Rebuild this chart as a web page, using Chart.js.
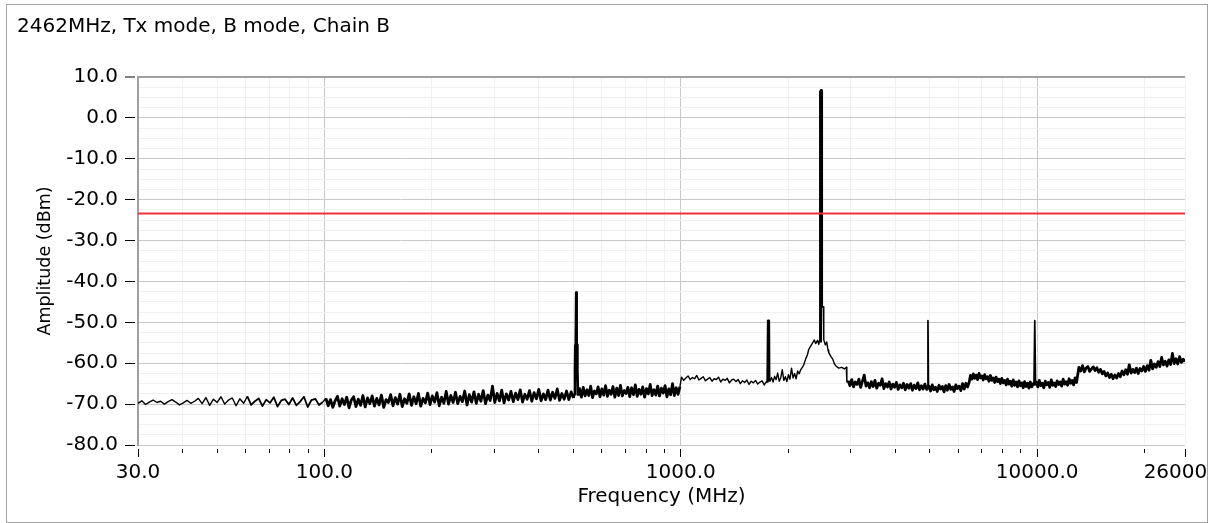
<!DOCTYPE html>
<html>
<head>
<meta charset="utf-8">
<script src="https://cdn.jsdelivr.net/npm/chart.js@4/dist/chart.umd.min.js"></script>
<style>
  html, body { margin: 0; padding: 0; background: #fff; }
  #frame {
    position: absolute; left: 6px; top: 4px;
    width: 1202px; height: 519px;
    box-sizing: border-box; border: 1px solid #a0a0a0;
  }
  #chart { display: block; }
</style>
</head>
<body>
<div id="frame"><canvas id="chart" width="1200" height="517"></canvas></div>
<script>
// ---------------- data ----------------
const chartTitle = "2462MHz, Tx mode, B mode, Chain B";
const limitDbm = -23.4;

// x axis ticks (MHz)
const freqTicks = [30, 40, 50, 60, 70, 80, 90, 100, 200, 300, 400, 500, 600, 700, 800, 900,
  1000, 2000, 3000, 4000, 5000, 6000, 7000, 8000, 9000, 10000, 20000, 26000];
const freqLabels = [30, 100, 1000, 10000, 26000];
const freqMajorGrid = [100, 1000, 10000];

// noise floor sweeps: band edges (MHz) and readings (dBm)
const bandFrom = [30, 101, 520, 1005, 1780, 2950, 4970, 6500, 9950, 13100];
const bandTo   = [99, 500, 995, 1740, 2150, 4900, 6450, 9750, 12900, 26000];

const floor30 = [-69.8,-69.2,-70.1,-69.5,-69.0,-69.6,-69.3,-70.0,-69.4,-68.9,-69.5,-70.2,-69.7,-69.1,-69.8,-69.3,
  -68.6,-69.9,-68.4,-70.3,-68.8,-69.6,-68.2,-70.0,-69.0,-68.5,-70.4,-68.7,-69.8,-68.1,-70.2,-69.3,-68.6,-70.5,
  -68.9,-69.7,-68.3,-70.6,-69.1,-68.8,-70.1,-68.5,-70.3,-69.4,-68.2,-70.7,-69.0,-68.7,-70.2,-69.5];
const floor100 = [-68.6,-70.4,-68.9,-70.8,-69.2,-68.1,-70.5,-68.7,-70.1,-68.3,-70.9,-69.0,-68.2,-70.6,-68.8,-70.3,
  -67.9,-70.7,-68.5,-69.9,-68.0,-70.5,-68.6,-70.2,-67.8,-70.8,-68.9,-69.6,-67.7,-70.4,-68.4,-70.0,-67.6,-70.6,
  -68.7,-69.8,-67.5,-70.3,-68.2,-69.9,-67.4,-70.5,-68.6,-69.7,-67.3,-70.1,-68.0,-69.5,-67.2,-70.4,-68.3,-69.8,
  -66.9,-70.0,-67.9,-69.6,-67.1,-69.9,-68.1,-69.4,-66.8,-70.2,-67.7,-69.5,-67.0,-69.8,-67.6,-69.3,-66.7,-69.9,
  -67.8,-69.1,-65.6,-69.6,-67.4,-69.2,-66.6,-69.7,-67.5,-69.0,-66.9,-69.4,-67.3,-68.9,-66.5,-69.5,-67.6,-68.8,
  -66.7,-69.3,-67.2,-68.7,-66.4,-69.2,-67.5,-68.9,-66.6,-69.0,-67.1,-68.6,-66.3,-69.1,-67.4,-68.8,-66.8,-68.9,
  -67.0,-68.5];
const floor520 = [-66.2,-68.3,-65.9,-68.0,-66.5,-67.9,-65.6,-68.4,-66.8,-67.5,-65.8,-68.2,-66.3,-67.8,-65.5,-68.1,
  -66.6,-67.6,-65.7,-68.3,-66.1,-67.9,-65.4,-68.0,-66.7,-67.4,-65.9,-68.2,-66.0,-67.7,-65.3,-68.1,-66.4,-67.6,
  -65.8,-68.3,-66.2,-67.5,-65.2,-67.9,-66.5,-67.8,-65.6,-68.0,-66.1,-67.3,-65.5,-68.2,-66.3,-67.7,-65.0,-67.9,
  -66.0,-67.6,-65.7];
const floor1000 = [-63.4,-64.2,-63.6,-63.1,-64.0,-63.5,-63.8,-63.0,-64.1,-63.7,-63.3,-64.3,-63.9,-63.5,-64.4,-63.8,
  -64.0,-63.4,-64.6,-63.9,-64.2,-63.7,-64.8,-64.1,-63.9,-64.5,-64.0,-65.0,-64.3,-64.7,-64.1,-65.2,-64.4,-64.8,
  -64.2,-65.1,-64.6,-64.3,-65.3,-64.5];
const floor1780 = [-64.3,-63.5,-64.6,-63.2,-64.0,-62.4,-64.4,-63.6,-61.6,-64.2,-63.3,-64.5,-62.8,-63.9,-61.2,-63.6,
  -62.5,-63.8,-61.9,-62.6];
const floor2950 = [-64.3,-65.5,-64.0,-65.8,-64.6,-65.2,-63.9,-65.9,-64.4,-62.9,-65.6,-64.8,-66.0,-64.5,-65.7,-64.2,
  -66.1,-64.9,-65.4,-63.8,-66.2,-65.0,-65.8,-64.6,-66.3,-65.1,-65.9,-64.7,-66.4,-65.3,-66.0,-64.9,-66.5,-65.2,
  -66.1,-65.0,-66.6,-65.4,-66.2,-64.8,-66.5,-65.5,-66.3,-65.1,-66.4];
const floor4970 = [-65.6,-66.8,-65.3,-66.5,-65.9,-66.9,-65.4,-66.3,-65.7,-67.0,-65.5,-66.6,-65.2,-66.4,-65.8,-66.9,
  -65.3,-66.2,-65.6,-66.7,-65.0,-66.3,-64.9,-65.8,-64.6];
const floor6500 = [-63.0,-63.9,-62.6,-63.7,-62.9,-64.0,-62.5,-63.6,-63.1,-64.1,-62.8,-63.8,-63.3,-64.4,-63.0,-64.2,
  -63.6,-64.7,-63.4,-64.5,-63.9,-65.0,-63.7,-64.8,-64.2,-65.3,-63.9,-65.1,-64.4,-65.6,-64.1,-65.4,-64.6,-65.8,
  -64.3,-65.5,-64.8,-66.0,-64.5,-65.7,-64.9,-66.1,-64.6,-65.8,-65.0];
const floor9950 = [-64.6,-65.8,-64.2,-65.5,-64.9,-66.0,-64.4,-65.3,-64.7,-65.9,-64.1,-65.4,-64.8,-65.7,-64.3,-65.2,
  -64.6,-65.6,-63.9,-65.1,-64.5,-65.4,-63.8,-64.9,-64.2,-65.3,-63.6,-64.7];
const floor13100 = [-61.0,-61.9,-60.6,-62.1,-61.2,-60.8,-62.0,-61.4,-60.9,-61.8,-61.1,-62.2,-61.5,-62.6,-62.0,-63.1,
  -62.4,-63.5,-62.7,-63.8,-62.9,-63.6,-62.5,-63.3,-61.9,-62.8,-61.6,-62.7,-60.4,-62.4,-61.5,-62.3,-61.2,-62.5,
  -61.3,-61.9,-60.8,-62.0,-60.6,-61.7,-59.3,-61.4,-60.2,-61.0,-59.6,-60.8,-58.6,-60.4,-59.5,-60.7,-59.2,-60.3,
  -57.6,-60.1,-58.9,-60.2,-58.4,-59.8,-59.0,-59.6];
const bandDbm = [floor30, floor100, floor520, floor1000, floor1780, floor2950, floor4970, floor6500, floor9950, floor13100];

// spurs and carrier (MHz / dBm)
const spurFreq = [503, 505, 506, 507, 508, 509, 510, 511, 512, 513, 515,
  1752, 1758, 1768, 1772,
  4925, 4940, 4955,
  9800, 9850, 9900];
const spurDbm = [-67.6, -61.8, -55.6, -61.5, -55.8, -42.7, -55.7, -62.0, -55.5, -61.8, -67.9,
  -64.7, -49.6, -49.8, -64.4,
  -66.3, -49.6, -66.0,
  -65.2, -49.6, -65.4];
const carrierFreq = [2170, 2212, 2241, 2270, 2285, 2315, 2345, 2370, 2391, 2420, 2440, 2458, 2462, 2468, 2478,
  2484, 2512, 2520, 2545, 2568, 2590, 2602, 2640, 2670, 2700, 2722, 2776, 2830, 2880, 2915, 2925];
const carrierDbm = [-61.6, -60.5, -59.0, -57.8, -56.7, -55.8, -55.0, -54.3, -55.2, -54.4, -55.4, -54.0, -54.6, 6.4, 6.7,
  -46.2, -46.2, -54.3, -55.5, -54.8, -56.8, -57.4, -58.4, -59.0, -60.2, -60.6, -61.2, -61.0, -61.4, -61.0, -64.6];

// ---------------- build trace ----------------
function sweep(from, to, dbm){
    const n = dbm.length;
    return dbm.map((v, i) => ({ x: from * Math.pow(to / from, i / (n - 1)), y: v }));
}

let trace = [];
bandDbm.forEach((d, i) => { trace = trace.concat(sweep(bandFrom[i], bandTo[i], d)); });
spurFreq.forEach((f, i) => trace.push({ x: f, y: spurDbm[i] }));
carrierFreq.forEach((f, i) => trace.push({ x: f, y: carrierDbm[i] }));
trace.sort((a, b) => a.x - b.x);

// the analyser trace is drawn heavier where the floor is dense
function traceWidth(ctx){
    const f0 = ctx.p0.parsed.x, f1 = ctx.p1.parsed.x;
    const dy = Math.abs(ctx.p1.parsed.y - ctx.p0.parsed.y);
    if (f0 >= 2460 && f1 <= 2490) return 3;
    if (f0 >= 500 && f1 <= 516) return 2.6;
    if (f0 >= 1750 && f1 <= 1775) return 2.4;
    if (dy > 10) return 1.7;
    if (f0 >= 60 && f1 <= 100) return 1.8;
    if ((f0 >= 100 && f1 <= 1000) || f0 >= 2945) return 2.8;
    return 1.4;
}

// ---------------- chart ----------------
const FONT = "DejaVu Sans";
Chart.defaults.font.family = FONT;
Chart.defaults.color = "#000";

new Chart(document.getElementById("chart"), {
    type: "line",
    data: {
        datasets: [
            {
                label: "Limit",
                data: [{ x: 30, y: limitDbm }, { x: 26000, y: limitDbm }],
                borderColor: "#f2303c",
                borderWidth: 2,
                pointRadius: 0
            },
            {
                label: "Trace",
                data: trace,
                borderColor: "#000",
                borderWidth: 1.4,
                borderJoinStyle: "round",
                pointRadius: 0,
                tension: 0,
                segment: { borderWidth: traceWidth }
            }
        ]
    },
    options: {
        responsive: false,
        animation: false,
        events: [],
        layout: { padding: { left: 10, right: 22, top: 0, bottom: 0 } },
        plugins: {
            legend: { display: false },
            tooltip: { enabled: false },
            title: {
                display: true,
                text: chartTitle,
                align: "start",
                color: "#000",
                font: { family: FONT, size: 20, weight: "normal" },
                padding: { top: 9.5, bottom: 38.5 }
            }
        },
        scales: {
            x: {
                type: "logarithmic",
                min: 30,
                max: 26000,
                afterBuildTicks: s => { s.ticks = freqTicks.map(v => ({ value: v })); },
                afterFit: s => { s.height = 77; s.paddingLeft = 0; s.paddingRight = 0; },
                ticks: {
                    autoSkip: false,
                    maxRotation: 0,
                    minRotation: 0,
                    padding: 4,
                    color: "#000",
                    font: { family: FONT, size: 20 },
                    callback: v => freqLabels.includes(v) ? v.toFixed(1) : ""
                },
                grid: {
                    color: c => (c.tick && freqMajorGrid.includes(c.tick.value)) ? "#c8c8c8" : "#f0f0f0",
                    tickLength: 12,
                    tickColor: "#000",
                    tickBorderDash: c => (c.tick && freqLabels.includes(c.tick.value)) ? [0, 4, 8, 100] : [0, 4, 4, 100]
                },
                border: { display: false },
                title: {
                    display: true,
                    text: "Frequency (MHz)",
                    color: "#000",
                    font: { family: FONT, size: 20 },
                    padding: { top: 0, bottom: 13 }
                }
            },
            y: {
                min: -80,
                max: 10,
                afterFit: s => { s.width = 121; s.paddingTop = 0; s.paddingBottom = 0; },
                ticks: {
                    stepSize: 2.5,
                    autoSkip: false,
                    padding: 7,
                    color: "#000",
                    font: { family: FONT, size: 20 },
                    callback: v => (v % 10 === 0) ? v.toFixed(1) : ""
                },
                grid: {
                    color: c => {
                        if (!c.tick) return "#c8c8c8";
                        if (c.tick.value === 10) return "#a0a0a0";
                        return c.tick.value % 10 === 0 ? "#c8c8c8" : "#f0f0f0";
                    },
                    lineWidth: c => (c.tick && c.tick.value === 10) ? 2 : 1,
                    tickLength: 13,
                    tickColor: c => (c.tick && c.tick.value % 10 === 0) ? "#000" : "rgba(0,0,0,0)",
                    tickWidth: 1,
                    tickBorderDash: [10, 100]
                },
                border: { display: true, color: "#a0a0a0", width: 2 },
                title: {
                    display: true,
                    text: "Amplitude (dBm)",
                    color: "#000",
                    font: { family: FONT, size: 17.5 },
                    padding: { top: 17.5, bottom: 0 }
                }
            }
        }
    }
});
</script>
</body>
</html>
